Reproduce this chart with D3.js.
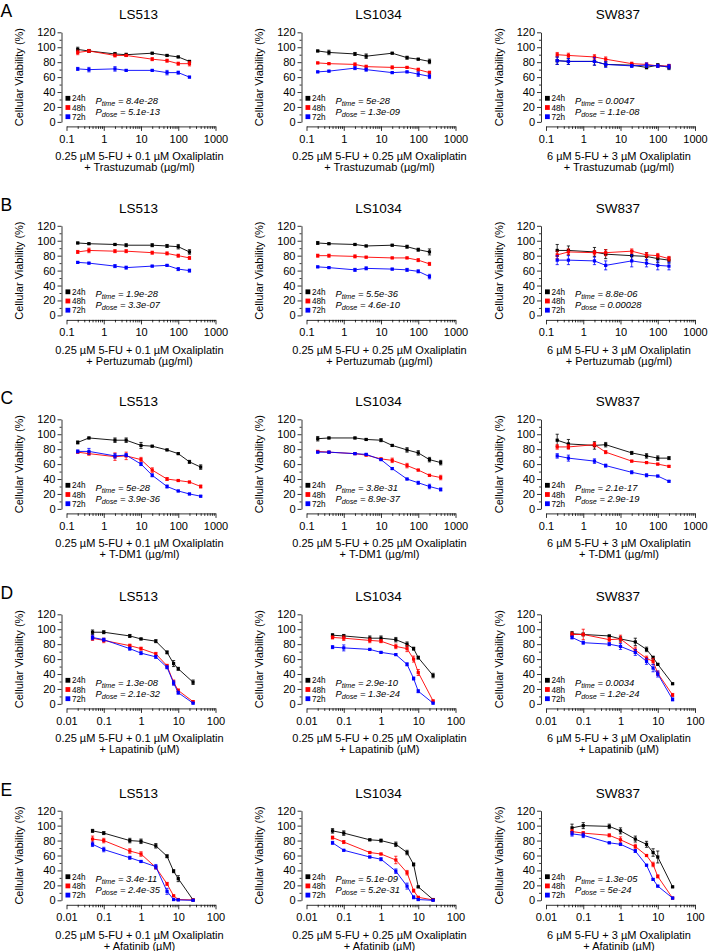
<!DOCTYPE html>
<html><head><meta charset="utf-8">
<script src="https://cdn.jsdelivr.net/npm/d3@7"></script>
<style>
body{margin:0;background:#fff}
svg text{font-family:"Liberation Sans",Arial,Helvetica,sans-serif;fill:#000}
</style>
</head><body>
<svg id="chart" width="709" height="951"></svg>
<script>
// ---------------- data ----------------
const rowLetters = ["A","B","C","D","E"];
const rowDrugs = ["+ Trastuzumab (µg/ml)","+ Pertuzumab (µg/ml)","+ T-DM1 (µg/ml)","+ Lapatinib (µM)","+ Afatinib (µM)"];
const cellLines = ["LS513","LS1034","SW837"];
const comboLabels = ["0.25 µM 5-FU + 0.1 µM Oxaliplatin","0.25 µM 5-FU + 0.25 µM Oxaliplatin","6 µM 5-FU + 3 µM Oxaliplatin"];
const timeLabels = ["24h","48h","72h"];
const seriesColors = ["#000000","#ff0000","#0000ff"];
const yTicks = [0,20,40,60,80,100,120];
const yMinorTicks = [10,30,50,70,90,110];
const xTicksMab = [0.1,1,10,100,1000];
const xTickLabelsMab = ["0.1","1","10","100","1000"];
const xTicksTki = [0.01,0.1,1,10,100];
const xTickLabelsTki = ["0.01","0.1","1","10","100"];

const doseMab = [0.2,0.4,2,4,20,50,100,200];
const doseTdm = [0.2,0.4,2,4,10,20,50,100,200,400];
const doseTki = [0.05,0.1,0.5,1,2.5,5,7.5,10,25];

const pTime = [["8.4e-28","5e-28","0.0047"],["1.9e-28","5.5e-36","8.8e-06"],["5e-28","3.8e-31","2.1e-17"],["1.3e-08","2.9e-10","0.0034"],["3.4e-11","5.1e-09","1.3e-05"]];
const pDose = [["5.1e-13","1.3e-09","1.1e-08"],["3.3e-07","4.6e-10","0.00028"],["3.9e-36","8.9e-37","2.9e-19"],["2.1e-32","1.3e-24","1.2e-24"],["2.4e-35","5.2e-31","5e-24"]];

// means [24h, 48h, 72h] and SD per panel
const meanA1 = [[97,95,91,90,92,89,87,81],[93,95,89,89,84,82,78,78],[71,70,71,69,69,66,66,60]];
const errA1  = [[3,2,2,2,1,1,1,1],[3,2,2,1,2,2,2,3],[2,3,3,1,1,3,2,1]];
const meanA2 = [[95,93,91,88,92,86,84,81],[79,78,77,74,73,73,70,66],[67,68,72,70,66,67,64,61]];
const errA2  = [[1,3,2,3,1,2,1,3],[1,1,2,2,2,1,2,2],[1,1,2,2,1,1,3,3]];
const meanA3 = [[82,81,81,77,76,73,76,73],[90,89,87,84,78,77,75,75],[82,81,81,77,75,76,75,74]];
const errA3  = [[5,4,5,3,2,2,2,3],[3,3,3,3,2,2,2,2],[5,4,5,4,2,3,2,3]];

const meanB1 = [[97,96,95,94,94,93,92,85],[85,87,86,86,84,83,80,77],[71,70,66,64,66,67,62,60]];
const errB1  = [[1,1,1,2,2,2,3,3],[2,3,2,2,2,2,2,2],[1,1,2,2,1,1,2,2]];
const meanB2 = [[97,96,95,93,94,92,88,85],[80,80,79,78,77,77,74,69],[65,64,61,63,62,61,59,52]];
const errB2  = [[2,1,1,1,1,2,2,4],[2,2,2,1,1,1,2,2],[1,1,2,2,1,2,2,3]];
const meanB3 = [[87,87,85,82,80,79,76,74],[81,85,84,84,86,81,80,76],[74,74,73,67,73,70,67,66]];
const errB3  = [[8,6,6,6,7,5,5,4],[5,4,3,4,3,3,3,3],[6,6,5,6,8,5,6,5]];

const meanC1 = [[89,95,92,92,85,84,79,74,63,56],[76,74,70,71,66,52,40,38,36,30],[77,77,71,72,60,45,30,24,20,17]];
const errC1  = [[2,1,3,3,4,1,1,1,2,3],[1,2,5,5,3,3,2,1,1,2],[2,4,3,2,2,2,2,1,1,1]];
const meanC2 = [[94,95,95,93,92,85,79,75,66,62],[77,76,74,72,67,65,58,52,45,42],[76,76,74,73,66,54,40,35,30,26]];
const errC2  = [[3,1,1,1,2,1,3,3,3,3],[1,1,1,1,1,3,3,1,1,3],[1,1,1,1,1,1,1,2,3,2]];
const meanC3 = [[92,87,85,86,75,71,68,68],[83,83,86,76,64,62,60,57],[71,68,64,58,49,45,44,37]];
const errC3  = [[8,6,5,3,2,3,3,2],[3,3,3,2,1,1,1,1],[3,4,3,2,2,2,1,1]];

const meanD1 = [[96,96,91,87,84,69,54,47,29],[88,85,78,74,67,51,29,18,3],[89,86,74,68,63,49,28,15,1]];
const errD1  = [[3,2,2,1,2,2,4,2,3],[3,3,2,2,2,2,3,2,1],[3,2,2,2,2,2,3,2,1]];
const meanD2 = [[92,91,88,88,86,80,74,62,38],[89,88,85,84,77,74,60,42,4],[76,75,73,69,66,53,34,17,1]];
const errD2  = [[2,2,3,3,3,3,2,2,3],[2,3,3,2,3,4,4,4,1],[2,4,1,1,1,2,2,2,1]];
const meanD3 = [[94,93,91,87,83,73,62,53,27],[93,93,86,87,72,61,57,41,12],[89,82,80,77,69,57,48,40,6]];
const errD3  = [[3,2,1,3,5,3,2,1,1],[3,7,3,5,4,3,4,3,2],[2,2,2,4,4,4,5,4,2]];

const meanE1 = [[93,90,80,79,73,59,39,29,0.5],[82,80,66,62,44,22,6,1,0.5],[75,68,57,52,45,12,1,0.5,0]];
const errE1  = [[2,2,3,3,3,2,2,4,0.5],[4,3,3,3,2,2,1,1,0.5],[3,3,2,1,3,4,1,0.5,0.5]];
const meanE2 = [[93,90,81,80,75,64,48,18,1],[84,78,64,62,54,37,13,4,0.5],[77,67,58,55,39,19,4,1,0]];
const errE2  = [[3,3,1,2,3,3,2,1,1],[2,2,1,1,5,3,2,1,0.5],[2,1,1,2,3,4,2,1,0.5]];
const meanE3 = [[97,100,99,93,82,75,64,58,18],[92,90,87,81,72,60,48,32,3],[89,87,77,75,66,47,28,19,3]];
const errE3  = [[5,4,3,4,4,4,5,8,1],[3,2,2,4,3,1,3,2,1],[3,3,1,1,2,1,1,1,1]];

const rowDoses = [doseMab, doseMab, doseTdm, doseTki, doseTki];
const panelMeans = [[meanA1,meanA2,meanA3],[meanB1,meanB2,meanB3],[meanC1,meanC2,meanC3],[meanD1,meanD2,meanD3],[meanE1,meanE2,meanE3]];
const panelErrs  = [[errA1,errA2,errA3],[errB1,errB2,errB3],[errC1,errC2,errC3],[errD1,errD2,errD3],[errE1,errE2,errE3]];

// ---------------- layout ----------------
const colX = [61.5, 301.5, 541];
const rowTop = [32.3, 225.8, 419.3, 614.3, 810.7];
const plotH = 89.6;

const svg = d3.select("#chart");
svg.append("rect").attr("width",709).attr("height",951).attr("fill","#fff");

rowLetters.forEach((letter, r) => {
  const top = rowTop[r];
  svg.append("text").attr("x",0.5).attr("y",top-15).attr("font-size",17.5).text(letter);

  cellLines.forEach((cell, c) => {
    const x0 = colX[c];
    const y0 = top + plotH;
    const isTki = r >= 3;
    const doses = c === 2 && r === 2 ? doseMab : rowDoses[r];
    const xDomain = isTki ? [0.01,100] : [0.1,1000];
    const x = d3.scaleLog().domain(xDomain).range([x0+5, x0+154]);
    const y = d3.scaleLinear().domain([0,120]).range([y0, top]);
    const g = svg.append("g");

    // title
    g.append("text").attr("x", x0+77).attr("y", top-13).attr("text-anchor","middle")
      .attr("font-size",13.5).text(cell);

    // y axis
    const yAx = g.append("g").attr("transform",`translate(${x0},0)`)
      .call(d3.axisLeft(y).tickValues(yTicks).tickSize(4).tickSizeOuter(0).tickPadding(2));
    g.append("g").attr("transform",`translate(${x0},0)`)
      .call(d3.axisLeft(y).tickValues(yMinorTicks).tickSize(2).tickSizeOuter(0).tickFormat(""))
      .select(".domain").remove();
    yAx.selectAll("text").attr("font-size",11).attr("font-family",null);

    // x axis
    const majors = isTki ? xTicksTki : xTicksMab;
    const majorLabels = isTki ? xTickLabelsTki : xTickLabelsMab;
    const minors = [];
    majors.slice(0,-1).forEach(m => { for (let k=2;k<=9;k++) minors.push(m*k); });
    const xa = g.append("g").attr("transform",`translate(0,${y0+4.5})`)
      .call(d3.axisBottom(x).tickValues(majors).tickFormat((d,i)=>majorLabels[i]).tickSize(4.5).tickSizeOuter(0).tickPadding(4));
    xa.selectAll("text").attr("font-size",11).attr("font-family",null);
    g.append("g").attr("transform",`translate(0,${y0+4.5})`)
      .call(d3.axisBottom(x).tickValues(minors).tickSize(2.5).tickFormat(""))
      .select(".domain").remove();
    g.selectAll(".domain, .tick line").attr("stroke","#000").attr("stroke-width",0.8);

    // axis labels
    g.append("text").attr("transform",`translate(${x0-38.5},${top+plotH/2}) rotate(-90)`)
      .attr("text-anchor","middle").attr("font-size",11).text("Cellular Viability (%)");
    const xl = g.append("text").attr("text-anchor","middle").attr("font-size",11);
    xl.append("tspan").attr("x",x0+78).attr("y",y0+38.5).text(comboLabels[c]);
    xl.append("tspan").attr("x",x0+78).attr("y",y0+49.5).text(rowDrugs[r]);

    // legend
    timeLabels.forEach((t,i) => {
      const cy = y0 - 23.6 + i*9.2;
      g.append("rect").attr("x",x0+4).attr("y",cy-2.4).attr("width",4.8).attr("height",4.8)
        .attr("fill",seriesColors[i]);
      g.append("text").attr("x",x0+10.5).attr("y",cy+3).attr("font-size",8.2).text(t);
    });

    // p values
    const pLines = [["time",pTime[r][c]],["dose",pDose[r][c]]];
    pLines.forEach(([sub,val],i) => {
      const tx = g.append("text").attr("x",x0+34).attr("y",y0-18.4+i*11.2)
        .attr("font-size",9.4).attr("font-style","italic");
      tx.append("tspan").text("P");
      tx.append("tspan").attr("font-size",7.2).attr("dy",2).text(sub);
      tx.append("tspan").attr("dy",-2).text(" = " + val);
    });

    // series
    const means = panelMeans[r][c];
    const errs = panelErrs[r][c];
    means.forEach((ser, s) => {
      const pts = ser.map((m,i)=>({d:doses[i], m, e:errs[s][i]}));
      const col = seriesColors[s];
      const sg = g.append("g");
      sg.append("path").datum(pts)
        .attr("d", d3.line().x(p=>x(p.d)).y(p=>y(p.m)))
        .attr("fill","none").attr("stroke",col).attr("stroke-width",0.9);
      const eb = sg.selectAll(".eb").data(pts).enter().append("g");
      eb.append("line").attr("x1",p=>x(p.d)).attr("x2",p=>x(p.d))
        .attr("y1",p=>y(p.m-p.e)).attr("y2",p=>y(p.m+p.e))
        .attr("stroke",col).attr("stroke-width",0.8);
      [1,-1].forEach(sg2 => {
        eb.append("line").attr("x1",p=>x(p.d)-1.6).attr("x2",p=>x(p.d)+1.6)
          .attr("y1",p=>y(p.m+sg2*p.e)).attr("y2",p=>y(p.m+sg2*p.e))
          .attr("stroke",col).attr("stroke-width",0.8);
      });
      sg.selectAll(".mk").data(pts).enter().append("rect")
        .attr("x",p=>x(p.d)-1.6).attr("y",p=>y(p.m)-1.6)
        .attr("width",3.2).attr("height",3.2).attr("fill",col);
    });
  });
});
</script>
</body></html>
